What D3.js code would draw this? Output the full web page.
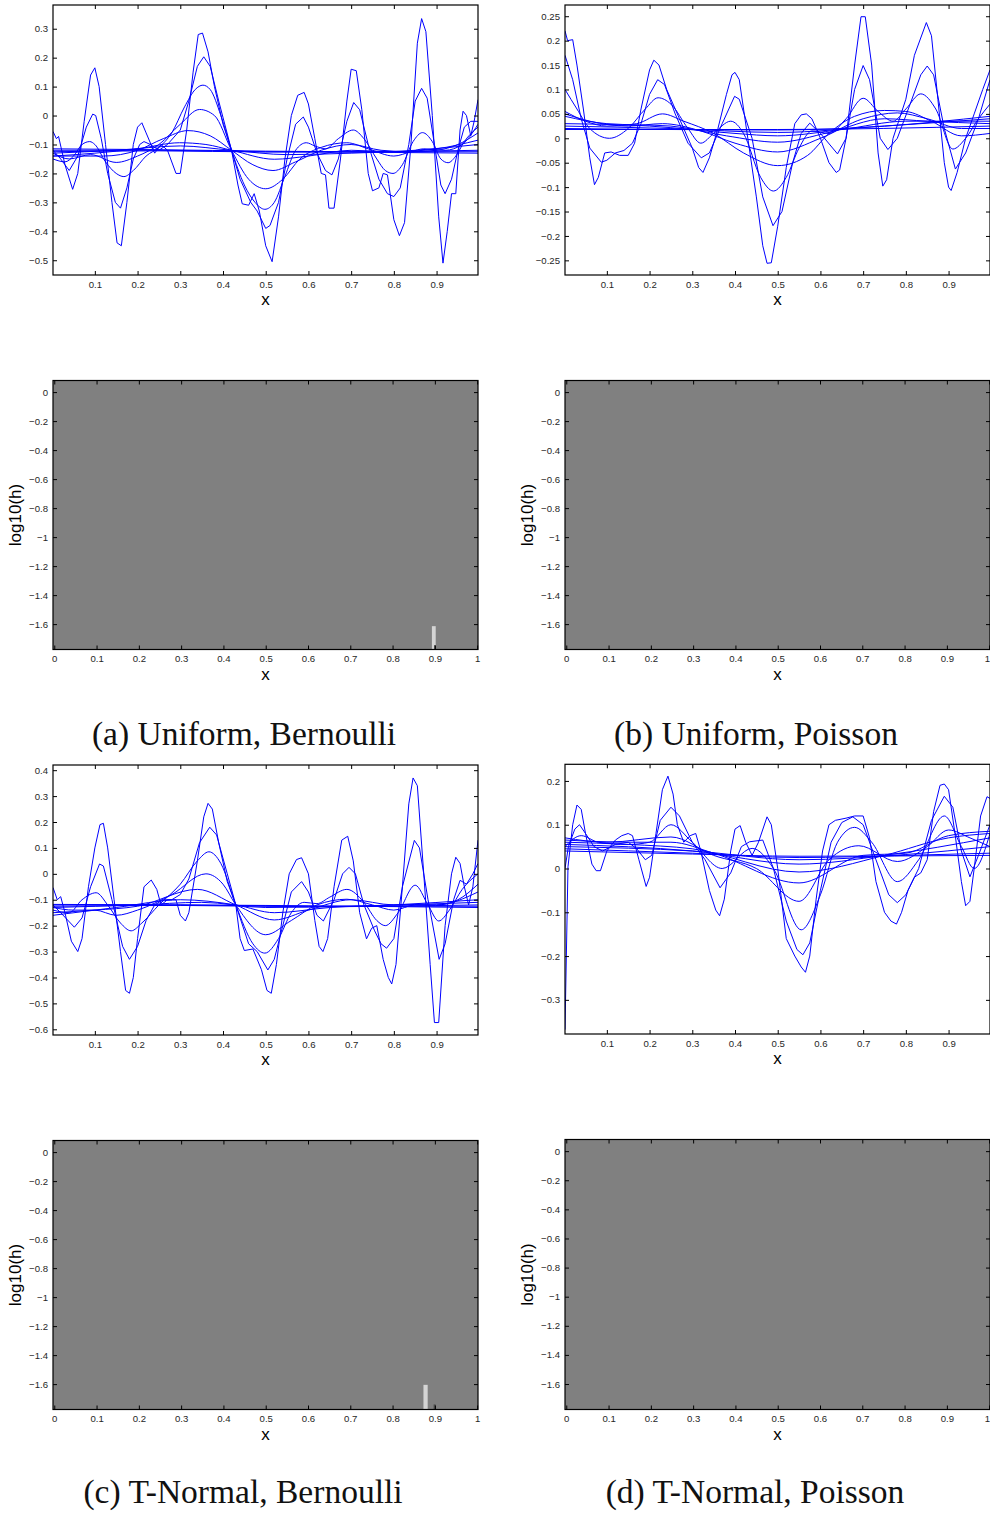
<!DOCTYPE html>
<html>
<head>
<meta charset="utf-8">
<script src="https://cdn.jsdelivr.net/npm/d3@7"></script>
<style>
  body { margin: 0; background: #fff; }
</style>
</head>
<body>
<div id="chart"></div>
<script>
// ---- data ----
const captions = ['(a) Uniform, Bernoulli', '(b) Uniform, Poisson', '(c) T-Normal, Bernoulli', '(d) T-Normal, Poisson'];

const lineXTicks = [0.1, 0.2, 0.3, 0.4, 0.5, 0.6, 0.7, 0.8, 0.9];
const heatXTicks = [0, 0.1, 0.2, 0.3, 0.4, 0.5, 0.6, 0.7, 0.8, 0.9, 1];
const heatYTicks = [0, -0.2, -0.4, -0.6, -0.8, -1, -1.2, -1.4, -1.6];

const yTicksA = [-0.5, -0.4, -0.3, -0.2, -0.1, 0, 0.1, 0.2, 0.3];
const yTicksB = [-0.25, -0.2, -0.15, -0.1, -0.05, 0, 0.05, 0.1, 0.15, 0.2, 0.25];
const yTicksC = [-0.6, -0.5, -0.4, -0.3, -0.2, -0.1, 0, 0.1, 0.2, 0.3, 0.4];
const yTicksD = [-0.3, -0.2, -0.1, 0, 0.1, 0.2];

const curvesA = [
  [[0.002,-0.055],[0.01,-0.08],[0.015,-0.072],[0.03,-0.17],[0.048,-0.255],[0.06,-0.2],[0.075,-0.02],[0.09,0.14],[0.1,0.165],[0.11,0.1],[0.125,-0.1],[0.14,-0.3],[0.152,-0.44],[0.162,-0.45],[0.175,-0.3],[0.19,-0.1],[0.2,-0.04],[0.21,-0.025],[0.22,-0.06],[0.24,-0.13],[0.255,-0.1],[0.27,-0.12],[0.29,-0.2],[0.3,-0.2],[0.315,-0.05],[0.33,0.15],[0.342,0.28],[0.352,0.285],[0.365,0.22],[0.38,0.1],[0.4,-0.03],[0.42,-0.12],[0.435,-0.24],[0.445,-0.305],[0.46,-0.31],[0.473,-0.27],[0.485,-0.33],[0.5,-0.45],[0.515,-0.505],[0.53,-0.35],[0.545,-0.15],[0.56,0.0],[0.575,0.07],[0.59,0.08],[0.6,0.04],[0.615,-0.08],[0.63,-0.2],[0.64,-0.205],[0.648,-0.32],[0.66,-0.32],[0.675,-0.15],[0.69,0.05],[0.7,0.16],[0.712,0.155],[0.725,0.02],[0.74,-0.2],[0.75,-0.26],[0.765,-0.25],[0.775,-0.2],[0.785,-0.205],[0.8,-0.36],[0.813,-0.415],[0.825,-0.37],[0.84,-0.1],[0.855,0.25],[0.865,0.335],[0.875,0.29],[0.89,0.0],[0.905,-0.35],[0.915,-0.51],[0.925,-0.4],[0.935,-0.27],[0.945,-0.27],[0.955,-0.05],[0.962,0.015],[0.97,0.0],[0.98,-0.07],[0.988,-0.02],[0.997,0.055]],
  [[0.002,-0.12],[0.02,-0.15],[0.04,-0.19],[0.06,-0.14],[0.08,-0.04],[0.095,0.005],[0.102,0.0],[0.115,-0.08],[0.13,-0.2],[0.148,-0.3],[0.16,-0.32],[0.175,-0.25],[0.19,-0.15],[0.205,-0.1],[0.215,-0.09],[0.23,-0.1],[0.25,-0.12],[0.27,-0.1],[0.3,-0.05],[0.32,0.05],[0.34,0.17],[0.355,0.203],[0.37,0.17],[0.39,0.05],[0.42,-0.12],[0.44,-0.22],[0.465,-0.3],[0.48,-0.33],[0.5,-0.39],[0.51,-0.38],[0.53,-0.3],[0.55,-0.15],[0.57,-0.03],[0.588,-0.005],[0.6,-0.04],[0.62,-0.13],[0.64,-0.19],[0.655,-0.205],[0.67,-0.15],[0.69,-0.02],[0.706,0.045],[0.72,0.02],[0.74,-0.1],[0.765,-0.22],[0.785,-0.27],[0.8,-0.28],[0.815,-0.25],[0.835,-0.1],[0.85,0.05],[0.865,0.094],[0.878,0.06],[0.895,-0.1],[0.91,-0.24],[0.92,-0.27],[0.935,-0.22],[0.95,-0.12],[0.965,-0.04],[0.98,-0.02],[0.997,-0.02]],
  [[0.002,-0.15],[0.03,-0.16],[0.05,-0.14],[0.07,-0.1],[0.088,-0.09],[0.1,-0.1],[0.125,-0.16],[0.15,-0.2],[0.168,-0.211],[0.19,-0.19],[0.22,-0.14],[0.25,-0.11],[0.28,-0.06],[0.31,0.03],[0.335,0.09],[0.353,0.105],[0.37,0.09],[0.395,0.0],[0.42,-0.12],[0.45,-0.24],[0.475,-0.3],[0.498,-0.324],[0.52,-0.3],[0.545,-0.21],[0.57,-0.12],[0.595,-0.094],[0.615,-0.105],[0.64,-0.115],[0.67,-0.08],[0.705,-0.05],[0.73,-0.08],[0.76,-0.15],[0.78,-0.19],[0.798,-0.2],[0.82,-0.17],[0.845,-0.09],[0.867,-0.059],[0.89,-0.09],[0.91,-0.15],[0.927,-0.163],[0.945,-0.14],[0.965,-0.09],[0.997,-0.04]],
  [[0.002,-0.13],[0.04,-0.15],[0.09,-0.135],[0.15,-0.162],[0.2,-0.14],[0.25,-0.1],[0.3,-0.03],[0.345,0.021],[0.38,0.0],[0.42,-0.12],[0.46,-0.22],[0.5,-0.253],[0.54,-0.22],[0.58,-0.15],[0.63,-0.11],[0.69,-0.094],[0.74,-0.115],[0.8,-0.14],[0.84,-0.125],[0.87,-0.115],[0.92,-0.12],[0.96,-0.1],[0.997,-0.03]],
  [[0.002,-0.14],[0.06,-0.14],[0.12,-0.14],[0.2,-0.12],[0.26,-0.08],[0.318,-0.052],[0.37,-0.07],[0.42,-0.12],[0.47,-0.17],[0.517,-0.19],[0.57,-0.16],[0.63,-0.12],[0.7,-0.1],[0.77,-0.12],[0.84,-0.125],[0.9,-0.12],[0.95,-0.1],[0.997,-0.06]],
  [[0.002,-0.14],[0.1,-0.13],[0.2,-0.115],[0.298,-0.094],[0.36,-0.1],[0.42,-0.12],[0.52,-0.151],[0.6,-0.14],[0.7,-0.12],[0.8,-0.125],[0.9,-0.115],[0.997,-0.085]],
  [[0.002,-0.13],[0.15,-0.12],[0.3,-0.105],[0.42,-0.12],[0.55,-0.135],[0.7,-0.13],[0.85,-0.12],[0.997,-0.1]],
  [[0.002,-0.115],[0.25,-0.118],[0.5,-0.123],[0.75,-0.125],[0.997,-0.125]],
  [[0.002,-0.12],[0.25,-0.12],[0.5,-0.125],[0.75,-0.127],[0.997,-0.13]],
  [[0.002,-0.125],[0.25,-0.122],[0.5,-0.126],[0.75,-0.125],[0.997,-0.12]]
];

const curvesB = [
  [[0.002,0.22],[0.008,0.2],[0.02,0.202],[0.03,0.15],[0.045,0.06],[0.06,-0.04],[0.071,-0.095],[0.08,-0.08],[0.095,-0.03],[0.11,-0.028],[0.13,-0.035],[0.15,-0.035],[0.165,-0.01],[0.18,0.06],[0.2,0.14],[0.21,0.16],[0.222,0.15],[0.24,0.1],[0.27,0.04],[0.3,-0.02],[0.315,-0.06],[0.325,-0.07],[0.34,-0.04],[0.36,0.02],[0.38,0.09],[0.393,0.13],[0.4,0.135],[0.41,0.12],[0.43,0.0],[0.45,-0.12],[0.465,-0.22],[0.475,-0.256],[0.485,-0.255],[0.5,-0.18],[0.52,-0.06],[0.54,0.03],[0.555,0.048],[0.567,0.05],[0.58,0.04],[0.6,0.0],[0.62,-0.05],[0.637,-0.07],[0.645,-0.065],[0.66,0.0],[0.68,0.15],[0.695,0.249],[0.705,0.249],[0.72,0.15],[0.735,-0.03],[0.746,-0.098],[0.755,-0.085],[0.77,0.0],[0.8,0.08],[0.82,0.17],[0.848,0.237],[0.86,0.21],[0.875,0.08],[0.89,-0.05],[0.9,-0.1],[0.906,-0.107],[0.92,-0.07],[0.94,0.0],[0.96,0.05],[0.98,0.1],[0.997,0.14]],
  [[0.002,0.17],[0.02,0.12],[0.04,0.04],[0.06,-0.02],[0.087,-0.049],[0.1,-0.045],[0.12,-0.03],[0.14,-0.025],[0.16,-0.01],[0.18,0.03],[0.2,0.09],[0.219,0.12],[0.235,0.11],[0.26,0.05],[0.29,-0.01],[0.321,-0.04],[0.34,-0.03],[0.37,0.03],[0.399,0.086],[0.41,0.08],[0.44,0.0],[0.465,-0.12],[0.489,-0.179],[0.51,-0.15],[0.535,-0.05],[0.555,0.01],[0.575,0.031],[0.6,0.01],[0.64,-0.032],[0.66,0.0],[0.68,0.1],[0.7,0.149],[0.715,0.12],[0.74,0.0],[0.758,-0.023],[0.78,0.0],[0.81,0.07],[0.835,0.13],[0.85,0.148],[0.865,0.13],[0.89,0.02],[0.916,-0.063],[0.94,-0.03],[0.97,0.04],[0.997,0.12]],
  [[0.002,0.1],[0.03,0.06],[0.06,0.02],[0.106,0.0],[0.15,0.02],[0.19,0.06],[0.22,0.083],[0.25,0.07],[0.29,0.02],[0.32,-0.01],[0.35,0.01],[0.39,0.035],[0.42,0.01],[0.46,-0.08],[0.49,-0.108],[0.52,-0.08],[0.55,-0.02],[0.58,0.015],[0.62,0.01],[0.66,0.04],[0.7,0.082],[0.735,0.055],[0.77,0.035],[0.8,0.06],[0.835,0.091],[0.87,0.06],[0.91,-0.022],[0.94,0.0],[0.97,0.04],[0.997,0.07]],
  [[0.002,0.055],[0.05,0.035],[0.1,0.025],[0.17,0.03],[0.23,0.05],[0.28,0.035],[0.35,0.01],[0.42,-0.03],[0.5,-0.056],[0.57,-0.035],[0.62,0.01],[0.68,0.045],[0.75,0.057],[0.8,0.055],[0.86,0.035],[0.93,0.005],[0.997,0.01]],
  [[0.002,0.05],[0.06,0.035],[0.15,0.025],[0.23,0.03],[0.32,0.015],[0.4,-0.01],[0.5,-0.028],[0.6,0.0],[0.7,0.04],[0.78,0.052],[0.85,0.04],[0.93,0.02],[0.997,0.02]],
  [[0.002,0.045],[0.1,0.03],[0.25,0.025],[0.38,0.005],[0.5,-0.008],[0.62,0.012],[0.75,0.04],[0.85,0.035],[0.997,0.03]],
  [[0.002,0.03],[0.2,0.025],[0.4,0.01],[0.5,0.005],[0.65,0.018],[0.8,0.035],[0.997,0.035]],
  [[0.002,0.025],[0.25,0.02],[0.5,0.012],[0.75,0.025],[0.997,0.04]],
  [[0.002,0.02],[0.25,0.018],[0.5,0.017],[0.75,0.025],[0.997,0.045]],
  [[0.002,0.018],[0.5,0.018],[0.997,0.025]]
];

const curvesC = [
  [[0.002,-0.053],[0.012,-0.1],[0.02,-0.088],[0.03,-0.15],[0.045,-0.26],[0.06,-0.3],[0.07,-0.25],[0.085,-0.05],[0.1,0.1],[0.112,0.19],[0.12,0.195],[0.13,0.1],[0.145,-0.1],[0.16,-0.3],[0.172,-0.45],[0.181,-0.461],[0.19,-0.4],[0.2,-0.25],[0.215,-0.05],[0.232,-0.024],[0.245,-0.06],[0.255,-0.12],[0.27,-0.1],[0.29,-0.1],[0.3,-0.16],[0.312,-0.182],[0.32,-0.15],[0.34,0.05],[0.355,0.22],[0.365,0.272],[0.375,0.25],[0.39,0.12],[0.41,-0.03],[0.43,-0.12],[0.44,-0.25],[0.45,-0.296],[0.47,-0.29],[0.49,-0.37],[0.503,-0.45],[0.513,-0.461],[0.525,-0.35],[0.54,-0.15],[0.555,0.0],[0.572,0.055],[0.584,0.062],[0.6,0.0],[0.615,-0.18],[0.625,-0.28],[0.634,-0.3],[0.645,-0.25],[0.66,-0.05],[0.678,0.13],[0.692,0.145],[0.705,0.05],[0.72,-0.15],[0.736,-0.251],[0.748,-0.21],[0.76,-0.2],[0.775,-0.33],[0.787,-0.4],[0.795,-0.425],[0.805,-0.35],[0.82,-0.05],[0.835,0.27],[0.845,0.37],[0.855,0.34],[0.87,0.0],[0.885,-0.35],[0.895,-0.574],[0.905,-0.574],[0.92,-0.2],[0.935,0.0],[0.945,0.064],[0.955,0.04],[0.965,-0.05],[0.975,-0.12],[0.985,-0.05],[0.997,0.13]],
  [[0.002,-0.12],[0.02,-0.15],[0.052,-0.206],[0.07,-0.17],[0.09,-0.05],[0.111,0.038],[0.12,0.03],[0.14,-0.1],[0.165,-0.28],[0.181,-0.33],[0.2,-0.28],[0.22,-0.18],[0.24,-0.12],[0.26,-0.1],[0.28,-0.1],[0.3,-0.08],[0.32,-0.02],[0.345,0.12],[0.369,0.18],[0.385,0.15],[0.41,0.0],[0.43,-0.12],[0.46,-0.27],[0.48,-0.3],[0.505,-0.371],[0.52,-0.33],[0.54,-0.2],[0.56,-0.07],[0.584,-0.03],[0.6,-0.07],[0.62,-0.16],[0.635,-0.182],[0.66,-0.1],[0.68,0.0],[0.695,0.025],[0.71,0.0],[0.73,-0.12],[0.755,-0.22],[0.77,-0.27],[0.783,-0.287],[0.8,-0.25],[0.82,-0.05],[0.848,0.129],[0.86,0.1],[0.88,-0.1],[0.906,-0.33],[0.92,-0.27],[0.94,-0.1],[0.955,-0.025],[0.97,-0.04],[0.985,0.0],[0.997,0.04]],
  [[0.002,-0.14],[0.04,-0.15],[0.07,-0.1],[0.103,-0.073],[0.13,-0.12],[0.16,-0.19],[0.185,-0.22],[0.21,-0.19],[0.25,-0.12],[0.3,-0.04],[0.34,0.05],[0.367,0.085],[0.395,0.04],[0.43,-0.12],[0.47,-0.27],[0.498,-0.306],[0.53,-0.25],[0.56,-0.15],[0.59,-0.11],[0.62,-0.115],[0.65,-0.09],[0.69,-0.06],[0.73,-0.11],[0.76,-0.18],[0.78,-0.2],[0.81,-0.15],[0.85,-0.044],[0.88,-0.12],[0.905,-0.182],[0.93,-0.14],[0.96,-0.06],[0.997,0.0]],
  [[0.002,-0.13],[0.05,-0.14],[0.1,-0.14],[0.15,-0.16],[0.2,-0.14],[0.28,-0.08],[0.36,0.0],[0.4,-0.04],[0.43,-0.12],[0.5,-0.235],[0.56,-0.18],[0.62,-0.12],[0.69,-0.098],[0.75,-0.12],[0.8,-0.14],[0.85,-0.12],[0.9,-0.12],[0.95,-0.1],[0.997,-0.04]],
  [[0.002,-0.15],[0.1,-0.14],[0.2,-0.125],[0.34,-0.06],[0.43,-0.12],[0.52,-0.178],[0.6,-0.14],[0.7,-0.1],[0.8,-0.12],[0.9,-0.12],[0.997,-0.07]],
  [[0.002,-0.16],[0.15,-0.13],[0.3,-0.1],[0.43,-0.12],[0.52,-0.15],[0.65,-0.13],[0.8,-0.12],[0.997,-0.1]],
  [[0.002,-0.13],[0.2,-0.12],[0.35,-0.11],[0.5,-0.13],[0.7,-0.125],[0.997,-0.11]],
  [[0.002,-0.12],[0.3,-0.12],[0.6,-0.125],[0.997,-0.125]],
  [[0.002,-0.125],[0.3,-0.122],[0.6,-0.127],[0.997,-0.12]],
  [[0.002,-0.118],[0.5,-0.122],[0.997,-0.13]]
];

const curvesD = [
  [[0.002,-0.368],[0.009,0.004],[0.02,0.1],[0.03,0.145],[0.04,0.135],[0.05,0.08],[0.065,0.01],[0.075,-0.005],[0.085,-0.005],[0.1,0.04],[0.12,0.065],[0.135,0.075],[0.15,0.08],[0.16,0.075],[0.175,0.02],[0.192,-0.041],[0.2,-0.02],[0.215,0.08],[0.23,0.18],[0.243,0.211],[0.255,0.17],[0.265,0.1],[0.28,0.06],[0.295,0.075],[0.308,0.08],[0.32,0.04],[0.34,-0.05],[0.355,-0.095],[0.364,-0.108],[0.375,-0.07],[0.39,0.04],[0.4,0.09],[0.412,0.098],[0.425,0.06],[0.44,0.03],[0.455,0.06],[0.475,0.118],[0.485,0.1],[0.5,0.0],[0.52,-0.16],[0.54,-0.2],[0.555,-0.225],[0.565,-0.237],[0.575,-0.2],[0.59,-0.07],[0.605,0.04],[0.62,0.1],[0.635,0.11],[0.66,0.115],[0.68,0.12],[0.7,0.12],[0.715,0.07],[0.73,-0.03],[0.75,-0.1],[0.765,-0.12],[0.778,-0.127],[0.79,-0.1],[0.805,-0.05],[0.82,-0.02],[0.835,-0.01],[0.85,0.02],[0.865,0.13],[0.88,0.19],[0.89,0.193],[0.9,0.18],[0.915,0.08],[0.93,-0.03],[0.94,-0.085],[0.95,-0.075],[0.96,0.0],[0.975,0.12],[0.99,0.164],[0.997,0.16]],
  [[0.002,0.0],[0.01,0.05],[0.025,0.09],[0.036,0.1],[0.05,0.08],[0.07,0.05],[0.09,0.04],[0.12,0.055],[0.15,0.06],[0.17,0.045],[0.19,0.02],[0.205,0.03],[0.225,0.11],[0.25,0.14],[0.27,0.12],[0.3,0.06],[0.33,0.02],[0.365,-0.044],[0.39,-0.01],[0.415,0.05],[0.434,0.061],[0.465,0.065],[0.49,0.0],[0.52,-0.12],[0.545,-0.185],[0.559,-0.197],[0.575,-0.17],[0.6,-0.05],[0.625,0.06],[0.65,0.105],[0.676,0.118],[0.7,0.1],[0.73,0.02],[0.76,-0.06],[0.78,-0.078],[0.8,-0.06],[0.83,0.0],[0.86,0.11],[0.89,0.165],[0.91,0.14],[0.93,0.04],[0.95,-0.019],[0.97,0.03],[0.997,0.1]],
  [[0.002,0.05],[0.04,0.075],[0.08,0.06],[0.15,0.055],[0.2,0.06],[0.25,0.1],[0.3,0.06],[0.37,0.0],[0.44,0.046],[0.49,0.0],[0.555,-0.14],[0.6,-0.06],[0.64,0.06],[0.68,0.094],[0.72,0.06],[0.78,-0.03],[0.83,0.02],[0.89,0.12],[0.93,0.05],[0.96,0.0],[0.997,0.08]],
  [[0.002,0.07],[0.1,0.06],[0.25,0.072],[0.35,0.03],[0.45,0.0],[0.55,-0.075],[0.62,0.02],[0.69,0.052],[0.78,0.016],[0.85,0.05],[0.9,0.088],[0.95,0.07],[0.997,0.05]],
  [[0.002,0.065],[0.15,0.06],[0.25,0.06],[0.35,0.035],[0.55,-0.033],[0.7,0.03],[0.8,0.035],[0.9,0.075],[0.997,0.085]],
  [[0.002,0.06],[0.15,0.055],[0.3,0.045],[0.55,-0.008],[0.75,0.03],[0.9,0.07],[0.997,0.08]],
  [[0.002,0.055],[0.3,0.04],[0.55,0.01],[0.75,0.03],[0.997,0.07]],
  [[0.002,0.05],[0.3,0.04],[0.55,0.02],[0.8,0.032],[0.997,0.05]],
  [[0.002,0.045],[0.3,0.035],[0.55,0.025],[0.8,0.03],[0.997,0.035]],
  [[0.002,0.04],[0.3,0.033],[0.55,0.028],[0.997,0.03]]
];

// image cells that differ from the flat grey background (value 0)
const heatA = [
  { x0: 0.893, x1: 0.902, y0: -1.775, y1: -1.614, v: 1 },
  { x0: 0.898, x1: 0.902, y0: -1.775, y1: -1.745, v: -1 }
];
const heatB = [];
const heatC = [
  { x0: 0.873, x1: 0.883, y0: -1.775, y1: -1.605, v: 1 },
  { x0: 0.897, x1: 0.902, y0: -1.775, y1: -1.74, v: -1 }
];
const heatD = [];

// ---- layout ----
const width = 990, height = 1513;
const panels = [
  { curves: curvesA, yTicks: yTicksA, yDomain: [-0.551, 0.382], heat: heatA, caption: captions[0],
    box: { x: 53, y: 5, w: 425, h: 270 }, hbox: { x: 53, y: 380.5, w: 425, h: 269 }, cap: [244, 745] },
  { curves: curvesB, yTicks: yTicksB, yDomain: [-0.28, 0.273], heat: heatB, caption: captions[1],
    box: { x: 565, y: 5, w: 425, h: 270 }, hbox: { x: 565, y: 380.5, w: 425, h: 269 }, cap: [756, 745] },
  { curves: curvesC, yTicks: yTicksC, yDomain: [-0.622, 0.42], heat: heatC, caption: captions[2],
    box: { x: 53, y: 765, w: 425, h: 270 }, hbox: { x: 53, y: 1140.5, w: 425, h: 269 }, cap: [243, 1503] },
  { curves: curvesD, yTicks: yTicksD, yDomain: [-0.378, 0.238], heat: heatD, caption: captions[3],
    box: { x: 565, y: 764.3, w: 425, h: 269.7 }, hbox: { x: 565, y: 1139.5, w: 425, h: 270 }, cap: [755, 1503] }
];

const tickFont = 'Liberation Sans, Arial, Helvetica, sans-serif';
const fmt = v => (v < 0 ? '\u2212' : '') + String(+Math.abs(v).toFixed(2));
const heatColor = d3.scaleLinear().domain([-1, 0, 1]).range(['#4d4d4d', '#808080', '#d4d4d4']);

const svg = d3.select('#chart')
  .append('svg')
  .attr('width', width)
  .attr('height', height)
  .style('background', '#fff');

const defs = svg.append('defs');

function styleAxis(g) {
  g.attr('font-size', 9.6).attr('font-family', tickFont).attr('color', '#000');
  g.selectAll('.domain').remove();
  g.selectAll('text').attr('fill', '#262626');
}

function frame(g, box, x, y, xTicks, yTicks) {
  // inward ticks on all four sides, labels only bottom and left
  const bottom = g.append('g')
    .attr('transform', `translate(0,${box.y + box.h})`)
    .call(d3.axisBottom(x).tickValues(xTicks).tickFormat(fmt).tickSizeInner(-4).tickSizeOuter(0).tickPadding(6))
    .call(styleAxis);
  // keep labels at the page edge inside the page
  bottom.selectAll('.tick').each(function (d) {
    const t = d3.select(this).select('text');
    const w = t.node().getComputedTextLength();
    const over = x(d) + w / 2 - (width - 0.5);
    if (over > 0) t.attr('x', -over);
  });
  g.append('g')
    .attr('transform', `translate(0,${box.y})`)
    .call(d3.axisTop(x).tickValues(xTicks).tickFormat('').tickSizeInner(-4).tickSizeOuter(0))
    .call(styleAxis);
  g.append('g')
    .attr('transform', `translate(${box.x},0)`)
    .call(d3.axisLeft(y).tickValues(yTicks).tickFormat(fmt).tickSizeInner(-4).tickSizeOuter(0).tickPadding(5))
    .call(styleAxis);
  g.append('g')
    .attr('transform', `translate(${box.x + box.w},0)`)
    .call(d3.axisRight(y).tickValues(yTicks).tickFormat('').tickSizeInner(-4).tickSizeOuter(0))
    .call(styleAxis);
  g.append('rect')
    .attr('x', box.x).attr('y', box.y)
    .attr('width', box.w).attr('height', box.h)
    .attr('fill', 'none').attr('stroke', '#000').attr('stroke-width', 1.2);
  g.append('text')
    .attr('x', (x.range()[0] + x.range()[1]) / 2)
    .attr('y', box.y + box.h + 30)
    .attr('text-anchor', 'middle')
    .attr('font-family', tickFont)
    .attr('font-size', 17)
    .text('x');
}

panels.forEach((p, i) => {
  const g = svg.append('g');

  // --- top: curves ---
  const x = d3.scaleLinear().domain([0.002, 0.997]).range([p.box.x, p.box.x + p.box.w]);
  const y = d3.scaleLinear().domain(p.yDomain).range([p.box.y + p.box.h, p.box.y]);

  defs.append('clipPath').attr('id', `clip${i}`)
    .append('rect')
    .attr('x', p.box.x).attr('y', p.box.y)
    .attr('width', p.box.w).attr('height', p.box.h);

  const sharp = d3.line().x(d => x(d[0])).y(d => y(d[1])).curve(d3.curveLinear);
  const smooth = d3.line().x(d => x(d[0])).y(d => y(d[1])).curve(d3.curveMonotoneX);

  g.append('g')
    .attr('clip-path', `url(#clip${i})`)
    .selectAll('path')
    .data(p.curves)
    .join('path')
    .attr('d', (d, k) => (k < 2 ? sharp(d) : smooth(d)))
    .attr('fill', 'none')
    .attr('stroke', '#0000ff')
    .attr('stroke-width', 1)
    .attr('stroke-linejoin', 'round');

  frame(g, p.box, x, y, lineXTicks, p.yTicks);

  // --- bottom: log10(h) image ---
  const hx = d3.scaleLinear().domain([-0.003, 1.002]).range([p.hbox.x, p.hbox.x + p.hbox.w]);
  const hy = d3.scaleLinear().domain([-1.775, 0.08]).range([p.hbox.y + p.hbox.h, p.hbox.y]);

  g.append('rect')
    .attr('x', hx(hx.domain()[0])).attr('y', hy(hy.domain()[1]))
    .attr('width', hx(hx.domain()[1]) - hx(hx.domain()[0]))
    .attr('height', hy(hy.domain()[0]) - hy(hy.domain()[1]))
    .attr('fill', heatColor(0));

  g.append('g')
    .selectAll('rect')
    .data(p.heat)
    .join('rect')
    .attr('x', d => hx(d.x0))
    .attr('y', d => hy(d.y1))
    .attr('width', d => hx(d.x1) - hx(d.x0))
    .attr('height', d => hy(d.y0) - hy(d.y1))
    .attr('fill', d => heatColor(d.v));

  frame(g, p.hbox, hx, hy, heatXTicks, heatYTicks);

  g.append('text')
    .attr('transform', `translate(${p.hbox.x - 32},${p.hbox.y + p.hbox.h / 2}) rotate(-90)`)
    .attr('text-anchor', 'middle')
    .attr('font-family', tickFont)
    .attr('font-size', 17)
    .text('log10(h)');

  // --- caption ---
  svg.append('text')
    .attr('x', p.cap[0])
    .attr('y', p.cap[1])
    .attr('text-anchor', 'middle')
    .attr('font-family', 'Liberation Serif, Times New Roman, serif')
    .attr('font-size', 33.5)
    .attr('fill', '#111')
    .text(p.caption);
});
</script>
</body>
</html>
